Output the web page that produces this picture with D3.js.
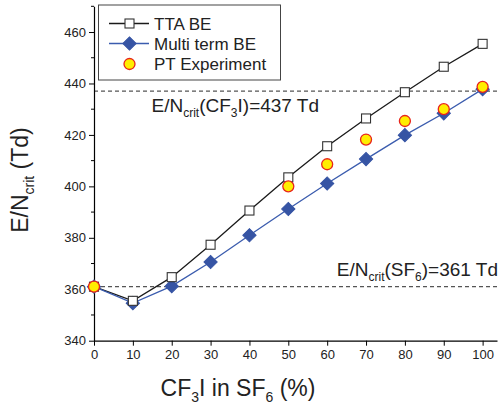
<!DOCTYPE html>
<html lang="en">
<head>
  <meta charset="UTF-8" />
  <title>E/N crit vs CF3I in SF6</title>
  <script src="https://d3js.org/d3.v7.min.js"></script>
  <style>
    body { margin: 0; background: #fff; }
    svg { font-family: "Liberation Sans", Arial, sans-serif; }
  </style>
</head>
<body>
  <svg id="chart" width="501" height="408"></svg>

  <script>
    // data
    const fractions = [0, 10, 20, 30, 40, 50, 60, 70, 80, 90, 100];
    const ttaBE = [361, 355.5, 364.7, 377.3, 390.6, 403.5, 415.6, 426.4, 436.6, 446.5, 455.4];
    const multiTermBE = [361, 354.6, 361.2, 370.6, 381, 391.2, 401.1, 410.6, 419.9, 428.4, 437.8];
    const ptFractions = [0, 50, 60, 70, 80, 90, 100];
    const ptExperiment = [361, 400, 408.6, 418.2, 425.4, 430, 438.7];
    const xTicks = [0, 10, 20, 30, 40, 50, 60, 70, 80, 90, 100];
    const yTicks = [340, 360, 380, 400, 420, 440, 460];
    const yMinor = [350, 370, 390, 410, 430, 450, 470];
    const critCF3I = 437;
    const critSF6 = 361;

    const svg = d3.select("#chart");

    const x = d3.scaleLinear().domain([0, 103.7]).range([94, 497]);
    const y = d3.scaleLinear().domain([340, 470]).range([340.7, 6.3]);

    // dashed reference lines
    [critCF3I, critSF6].forEach(v => {
      svg.append("line")
        .attr("x1", x(0)).attr("x2", x(103.7))
        .attr("y1", y(v)).attr("y2", y(v))
        .attr("stroke", "#555")
        .attr("stroke-width", 1.2)
        .attr("stroke-dasharray", "4,3");
    });

    // axes
    const xAxis = svg.append("g")
      .attr("transform", `translate(0,${y(340)})`)
      .call(d3.axisBottom(x).tickValues(xTicks).tickSize(5).tickSizeOuter(0).tickPadding(4));
    const yAxis = svg.append("g")
      .attr("transform", `translate(${x(0)},0)`)
      .call(d3.axisLeft(y).tickValues(yTicks).tickSize(5).tickSizeOuter(0).tickPadding(3));
    svg.append("g")
      .attr("transform", `translate(${x(0)},0)`)
      .selectAll("line")
      .data(yMinor)
      .join("line")
      .attr("x1", -3).attr("x2", 0)
      .attr("y1", d => y(d)).attr("y2", d => y(d))
      .attr("stroke", "#000");

    [xAxis, yAxis].forEach(g => {
      g.select(".domain").attr("stroke", "#000").attr("stroke-width", 1.2);
      g.selectAll(".tick line").attr("stroke", "#000");
      g.selectAll(".tick text")
        .attr("font-size", 13)
        .attr("fill", "#222")
        .attr("font-family", "Liberation Sans, Arial, sans-serif");
    });

    // axis titles
    const xt = svg.append("text")
      .attr("x", 238).attr("y", 396)
      .attr("text-anchor", "middle")
      .attr("font-size", 23)
      .attr("fill", "#222");
    xt.append("tspan").text("CF");
    xt.append("tspan").attr("font-size", 14).attr("dy", 6).text("3");
    xt.append("tspan").attr("dy", -6).text("I in SF");
    xt.append("tspan").attr("font-size", 14).attr("dy", 6).text("6");
    xt.append("tspan").attr("dy", -6).text(" (%)");

    const yt = svg.append("text")
      .attr("transform", "translate(28,180) rotate(-90)")
      .attr("text-anchor", "middle")
      .attr("font-size", 23)
      .attr("fill", "#222");
    yt.append("tspan").text("E/N");
    yt.append("tspan").attr("font-size", 14).attr("dy", 6).text("crit");
    yt.append("tspan").attr("dy", -6).text(" (Td)");

    // reference labels
    const a1 = svg.append("text")
      .attr("x", 151.5).attr("y", y(critCF3I) + 21)
      .attr("font-size", 19)
      .attr("fill", "#222");
    a1.append("tspan").text("E/N");
    a1.append("tspan").attr("font-size", 12).attr("dy", 5).text("crit");
    a1.append("tspan").attr("dy", -5).text("(CF");
    a1.append("tspan").attr("font-size", 12).attr("dy", 5).text("3");
    a1.append("tspan").attr("dy", -5).text(`I)=${critCF3I} Td`);

    const a2 = svg.append("text")
      .attr("x", 498).attr("y", y(critSF6) - 11)
      .attr("text-anchor", "end")
      .attr("font-size", 19)
      .attr("fill", "#222");
    a2.append("tspan").text("E/N");
    a2.append("tspan").attr("font-size", 12).attr("dy", 5).text("crit");
    a2.append("tspan").attr("dy", -5).text("(SF");
    a2.append("tspan").attr("font-size", 12).attr("dy", 5).text("6");
    a2.append("tspan").attr("dy", -5).text(`)=${critSF6} Td`);

    // series
    const tta = fractions.map((f, i) => [f, ttaBE[i]]);
    const multi = fractions.map((f, i) => [f, multiTermBE[i]]);
    const pt = ptFractions.map((f, i) => [f, ptExperiment[i]]);
    const line = d3.line().x(d => x(d[0])).y(d => y(d[1]));

    svg.append("path")
      .attr("d", line(tta))
      .attr("fill", "none")
      .attr("stroke", "#1a1a1a")
      .attr("stroke-width", 1.3);
    svg.append("path")
      .attr("d", line(multi))
      .attr("fill", "none")
      .attr("stroke", "#3b5cae")
      .attr("stroke-width", 1.3);

    const diamond = d3.symbol().type(d3.symbolSquare).size(88);
    svg.append("g").selectAll("path")
      .data(multi)
      .join("path")
      .attr("d", diamond)
      .attr("transform", d => `translate(${x(d[0])},${y(d[1])}) rotate(45)`)
      .attr("fill", "#3654a4")
      .attr("stroke", "#3654a4")
      .attr("stroke-width", 1);

    svg.append("g").selectAll("rect")
      .data(tta)
      .join("rect")
      .attr("x", d => x(d[0]) - 4.5)
      .attr("y", d => y(d[1]) - 4.5)
      .attr("width", 9).attr("height", 9)
      .attr("fill", "#fff")
      .attr("stroke", "#333")
      .attr("stroke-width", 1.1);

    svg.append("g").selectAll("circle")
      .data(pt)
      .join("circle")
      .attr("cx", d => x(d[0]))
      .attr("cy", d => y(d[1]))
      .attr("r", 5.5)
      .attr("fill", "#ffee00")
      .attr("stroke", "#e8241c")
      .attr("stroke-width", 1.3);

    // legend
    const lg = svg.append("g");
    lg.append("rect")
      .attr("x", 98.5).attr("y", 5).attr("width", 182).attr("height", 75)
      .attr("fill", "#fff")
      .attr("stroke", "#444")
      .attr("stroke-width", 1);
    const rows = [
      { label: "TTA BE", yPos: 23.5 },
      { label: "Multi term BE", yPos: 43.5 },
      { label: "PT Experiment", yPos: 64 }
    ];
    // TTA BE sample
    lg.append("line").attr("x1", 109).attr("x2", 149).attr("y1", rows[0].yPos).attr("y2", rows[0].yPos)
      .attr("stroke", "#1a1a1a").attr("stroke-width", 1.3);
    lg.append("rect").attr("x", 125).attr("y", rows[0].yPos - 4.5).attr("width", 9).attr("height", 9)
      .attr("fill", "#fff").attr("stroke", "#333").attr("stroke-width", 1.1);
    // Multi term sample
    lg.append("line").attr("x1", 109).attr("x2", 149).attr("y1", rows[1].yPos).attr("y2", rows[1].yPos)
      .attr("stroke", "#3b5cae").attr("stroke-width", 1.3);
    lg.append("path").attr("d", diamond)
      .attr("transform", `translate(129.5,${rows[1].yPos}) rotate(45)`)
      .attr("fill", "#3654a4").attr("stroke", "#3654a4");
    // PT sample
    lg.append("circle").attr("cx", 129.5).attr("cy", rows[2].yPos).attr("r", 5.5)
      .attr("fill", "#ffee00").attr("stroke", "#e8241c").attr("stroke-width", 1.3);

    lg.selectAll("text.lab")
      .data(rows)
      .join("text")
      .attr("class", "lab")
      .attr("x", 154)
      .attr("y", d => d.yPos + 6)
      .attr("font-size", 17)
      .attr("fill", "#222")
      .text(d => d.label);
  </script>
</body>
</html>
